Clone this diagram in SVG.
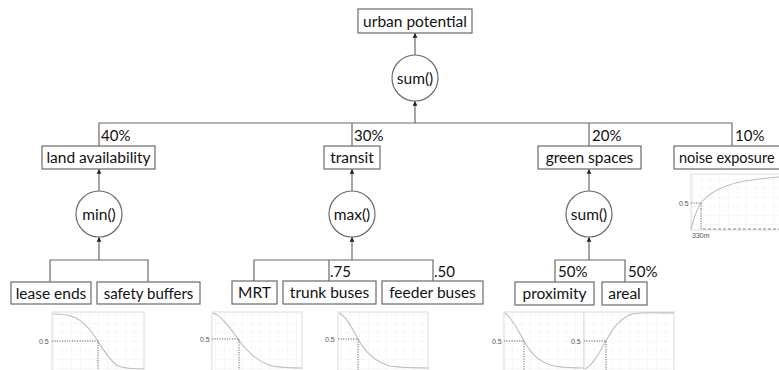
<svg xmlns="http://www.w3.org/2000/svg" width="779" height="370" viewBox="0 0 779 370">
<defs>
<style>
.box{fill:#fff;stroke:#6a6a6a;stroke-width:1.2}
.op{fill:#fff;stroke:#6a6a6a;stroke-width:1.2}
.t{font-family:Lato,"Liberation Sans",sans-serif;font-size:15.5px;fill:#111}
.w{font-family:Lato,"Liberation Sans",sans-serif;font-size:15px;fill:#111}
.ln{fill:none;stroke:#6a6a6a;stroke-width:1.2}
.ar{fill:none;stroke:#6a6a6a;stroke-width:1.2;marker-end:url(#ah)}
.frame{fill:#fff;stroke:#dcdcdc;stroke-width:1}
.grid{stroke:#ececec;stroke-width:0.7}
.curve{fill:none;stroke:#bdbdbd;stroke-width:1.1}
.dot{fill:none;stroke:#555;stroke-width:0.9;stroke-dasharray:1.2 1.3}
.small{font-family:"Liberation Sans",sans-serif;font-size:7px;fill:#555}
</style>
<marker id="ah" viewBox="0 0 8 10" refX="8" refY="5" markerWidth="5" markerHeight="6" orient="auto" markerUnits="userSpaceOnUse">
<path d="M0,1 L8,5 L0,9 z" fill="#222"/>
</marker>
<pattern id="gp" width="9" height="9" patternUnits="userSpaceOnUse">
<path d="M9,0 V9 M0,9 H9" class="grid"/>
</pattern>
</defs>

<g id="connectors">
<line class="ar" x1="415" y1="55" x2="415" y2="33"/>
<line class="ar" x1="415" y1="123" x2="415" y2="101"/>
<polyline class="ln" points="99,146 99,123 732,123 732,146"/>
<line class="ln" x1="352" y1="123" x2="352" y2="146"/>
<line class="ln" x1="589" y1="123" x2="589" y2="146"/>
<line class="ar" x1="99" y1="191" x2="99" y2="169"/>
<line class="ar" x1="99" y1="260" x2="99" y2="237"/>
<polyline class="ln" points="50,282 50,260 148,260 148,282"/>
<line class="ar" x1="352" y1="191" x2="352" y2="169"/>
<line class="ar" x1="352" y1="260" x2="352" y2="237"/>
<polyline class="ln" points="254,281 254,260 433,260 433,281"/>
<line class="ln" x1="329" y1="260" x2="329" y2="281"/>
<line class="ar" x1="589" y1="191" x2="589" y2="169"/>
<line class="ar" x1="589" y1="260" x2="589" y2="237"/>
<polyline class="ln" points="555,282 555,260 625,260 625,282"/>
</g>

<g id="weights">
<text class="w" x="101" y="141">40%</text>
<text class="w" x="354" y="141">30%</text>
<text class="w" x="592" y="141">20%</text>
<text class="w" x="735" y="141">10%</text>
<text class="w" x="330" y="277">.75</text>
<text class="w" x="434" y="277">.50</text>
<text class="w" x="558" y="277">50%</text>
<text class="w" x="628" y="277">50%</text>
</g>

<g id="urban-potential">
<rect class="box" x="358" y="9" width="114" height="24"/>
<text class="t" x="415" y="26.5" text-anchor="middle">urban potential</text>
</g>
<g id="sum-top">
<circle class="op" cx="415" cy="78" r="23"/>
<text class="t" x="415" y="83.5" text-anchor="middle">sum()</text>
</g>

<g id="land-availability">
<rect class="box" x="42" y="146" width="113" height="23"/>
<text class="t" x="98.5" y="162.5" text-anchor="middle">land availability</text>
</g>
<g id="transit">
<rect class="box" x="324" y="146" width="56" height="23"/>
<text class="t" x="352" y="162.5" text-anchor="middle">transit</text>
</g>
<g id="green-spaces">
<rect class="box" x="538" y="146" width="103" height="23"/>
<text class="t" x="589.5" y="162.5" text-anchor="middle">green spaces</text>
</g>
<g id="noise-exposure">
<rect class="box" x="674" y="146" width="118" height="23"/>
<text class="t" x="679" y="162.5" style="font-size:14.5px">noise exposure</text>
</g>

<g id="min">
<circle class="op" cx="99" cy="214" r="23"/>
<text class="t" x="99" y="219.5" text-anchor="middle">min()</text>
</g>
<g id="max">
<circle class="op" cx="352" cy="214" r="23"/>
<text class="t" x="352" y="219.5" text-anchor="middle">max()</text>
</g>
<g id="sum-green">
<circle class="op" cx="589" cy="214" r="23"/>
<text class="t" x="589" y="219.5" text-anchor="middle">sum()</text>
</g>

<g id="lease-ends">
<rect class="box" x="11" y="282" width="80" height="22"/>
<text class="t" x="51" y="298.5" text-anchor="middle">lease ends</text>
</g>
<g id="safety-buffers">
<rect class="box" x="97" y="282" width="103" height="22"/>
<text class="t" x="148.5" y="298.5" text-anchor="middle" style="font-size:15px">safety buffers</text>
</g>
<g id="mrt">
<rect class="box" x="232" y="281" width="45" height="23"/>
<text class="t" x="254.5" y="297.5" text-anchor="middle">MRT</text>
</g>
<g id="trunk-buses">
<rect class="box" x="283" y="281" width="93" height="23"/>
<text class="t" x="329.5" y="297.5" text-anchor="middle">trunk buses</text>
</g>
<g id="feeder-buses">
<rect class="box" x="382" y="281" width="101" height="23"/>
<text class="t" x="432.5" y="297.5" text-anchor="middle">feeder buses</text>
</g>
<g id="proximity">
<rect class="box" x="515" y="282" width="79" height="23"/>
<text class="t" x="554.5" y="298.5" text-anchor="middle">proximity</text>
</g>
<g id="areal">
<rect class="box" x="602" y="282" width="45" height="23"/>
<text class="t" x="624.5" y="298.5" text-anchor="middle">areal</text>
</g>

<g id="chart-lease">
<rect class="frame" x="52" y="312" width="92" height="62"/>
<rect x="52" y="312" width="92" height="62" fill="url(#gp)"/>
<path class="curve" d="M53,314 C72,314 80,318 90,330 C100,343 108,360 118,366 C126,369 134,369 144,369"/>
<path class="dot" d="M52,341 H98 V372"/>
<text class="small" x="39" y="343.5">0.5</text>
</g>
<g id="chart-mrt">
<rect class="frame" x="212" y="312" width="90" height="62"/>
<rect x="212" y="312" width="90" height="62" fill="url(#gp)"/>
<path class="curve" d="M213,313 C222,316 230,328 238,339 C248,353 258,362 272,366 C284,368 294,368 302,368"/>
<path class="dot" d="M212,339 H239 V372"/>
<text class="small" x="200" y="341.5">0.5</text>
</g>
<g id="chart-trunk">
<rect class="frame" x="338" y="312" width="90" height="62"/>
<rect x="338" y="312" width="90" height="62" fill="url(#gp)"/>
<path class="curve" d="M339,313 C346,316 352,328 358,339 C366,354 376,362 390,366 C404,368 418,368 428,368"/>
<path class="dot" d="M338,339 H358 V372"/>
<text class="small" x="325" y="341.5">0.5</text>
</g>
<g id="chart-proximity">
<rect class="frame" x="504" y="312" width="80" height="62"/>
<rect x="504" y="312" width="80" height="62" fill="url(#gp)"/>
<path class="curve" d="M505,313 C512,318 518,330 524,341 C531,354 540,363 554,366 C566,368 576,368 584,368"/>
<path class="dot" d="M504,341 H524 V372"/>
<text class="small" x="492" y="343.5">0.5</text>
</g>
<g id="chart-areal">
<rect class="frame" x="584" y="312" width="90" height="62"/>
<rect x="584" y="312" width="90" height="62" fill="url(#gp)"/>
<path class="curve" d="M585,369 C592,366 599,354 606,341 C613,328 620,318 632,314 C642,312 660,313 674,313"/>
<path class="dot" d="M584,341 H606 V372"/>
<text class="small" x="571" y="343.5">0.5</text>
</g>
<g id="chart-noise">
<rect class="frame" x="691" y="174" width="95" height="56"/>
<rect x="691" y="174" width="95" height="56" fill="url(#gp)"/>
<path class="curve" d="M691,229 C694,218 697,208 701,203 C710,192 722,186 740,182 C755,179 768,178 779,177"/>
<path class="dot" d="M691,203 H701 V229"/>
<path d="M703,229 H779" stroke="#888" stroke-width="1" stroke-dasharray="3 2"/>
<text class="small" x="679" y="205.5">0.5</text>
<text class="small" x="692" y="238">330m</text>
</g>
</svg>
